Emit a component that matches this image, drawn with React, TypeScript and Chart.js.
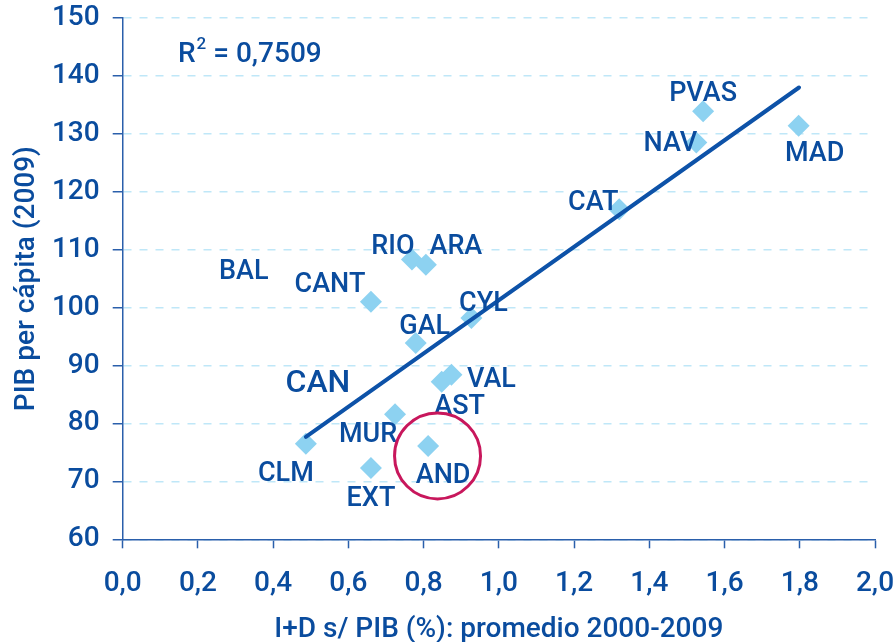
import React, { useEffect, useRef } from 'react';
import { Chart, registerables } from 'chart.js';

Chart.register(...registerables);

// ---- data ----
const regions = ['CLM', 'EXT', 'MUR', 'CANT', 'RIO', 'ARA', 'GAL', 'AND', 'AST', 'VAL', 'CYL', 'CAT', 'NAV', 'PVAS', 'MAD'];
const rdShare = [0.487, 0.66, 0.724, 0.66, 0.769, 0.806, 0.779, 0.812, 0.848, 0.874, 0.927, 1.32, 1.525, 1.543, 1.797];
const gdpPerCapita = [76.5, 72.3, 81.6, 101.0, 108.3, 107.4, 93.9, 76.1, 87.2, 88.4, 98.2, 117.0, 128.5, 133.9, 131.4];

const trendX = [0.487, 1.798];
const trendY = [77.7, 138.0];

const floatingLabels = ['BAL', 'CAN'];
const floatingX = [0.322, 0.519];
const floatingY = [106.7, 87.3];

const xMin = 0;
const xMax = 2;
const xStep = 0.2;
const yMin = 60;
const yMax = 150;
const yStep = 10;

const r2Value = '0,7509';
const r2AnchorX = 0.147;
const r2AnchorY = 144.0;

const highlightX = 0.837;
const highlightY = 74.4;

const xTitle = 'I+D s/ PIB (%): promedio 2000-2009';
const yTitle = 'PIB per cápita (2009)';

// ---- styles ----
const FONT = "Roboto, 'Open Sans', sans-serif";
const WEIGHT = '500';
const TEXT = '#0a4c9e';
const AXIS = '#2a5fab';
const GRID = '#bfe7f8';
const DIAMOND = '#8dd2f1';
const TREND = '#0d52a8';
const CIRCLE = '#c8175c';
const TEXT_DY = 3;

const labelOffsets: Record<string, [number, number]> = {
  CLM: [-20, 28],
  EXT: [0, 28],
  MUR: [-27, 18],
  CANT: [-41, -20],
  RIO: [-19, -15],
  ARA: [30, -20],
  GAL: [9, -19],
  AND: [15, 27],
  AST: [18, 22],
  VAL: [40, 2],
  CYL: [12, -17],
  CAT: [-26, -9],
  NAV: [-26, -1],
  PVAS: [0, -20],
  MAD: [16, 26],
};
const floatingSizes: Record<string, number> = { BAL: 27, CAN: 32 };

const annotationPlugin = {
  id: 'annotations',
  afterDatasetsDraw(chart: any) {
    const ctx = chart.ctx;
    const xs = chart.scales.x;
    const ys = chart.scales.y;
    ctx.save();
    ctx.fillStyle = TEXT;
    ctx.textAlign = 'center';
    ctx.textBaseline = 'middle';
    ctx.font = `${WEIGHT} 27px ${FONT}`;
    regions.forEach((name, i) => {
      const px = xs.getPixelForValue(rdShare[i]);
      const py = ys.getPixelForValue(gdpPerCapita[i]);
      const off = labelOffsets[name] || [0, 0];
      ctx.fillText(name, px + off[0], py + off[1] + TEXT_DY);
    });
    floatingLabels.forEach((name, i) => {
      ctx.font = `${WEIGHT} ${floatingSizes[name] || 27}px ${FONT}`;
      ctx.fillText(name, xs.getPixelForValue(floatingX[i]), ys.getPixelForValue(floatingY[i]) + TEXT_DY);
    });

    // R² text
    const rx = xs.getPixelForValue(r2AnchorX);
    const ry = ys.getPixelForValue(r2AnchorY) + 2;
    ctx.textAlign = 'left';
    ctx.font = `${WEIGHT} 28px ${FONT}`;
    ctx.fillText('R', rx, ry);
    const rw = ctx.measureText('R').width;
    ctx.font = `${WEIGHT} 17px ${FONT}`;
    ctx.fillText('2', rx + rw + 1, ry - 10);
    const sw = ctx.measureText('2').width;
    ctx.font = `${WEIGHT} 28px ${FONT}`;
    ctx.fillText(' = ' + r2Value, rx + rw + sw + 1, ry);

    // highlight circle
    ctx.beginPath();
    ctx.strokeStyle = CIRCLE;
    ctx.lineWidth = 3;
    ctx.arc(xs.getPixelForValue(highlightX), ys.getPixelForValue(highlightY), 43, 0, Math.PI * 2);
    ctx.stroke();
    ctx.restore();
  },
};

export default function App() {
  const canvasRef = useRef<HTMLCanvasElement | null>(null);

  useEffect(() => {
    const canvas = canvasRef.current;
    if (!canvas) return;
    const chart = new Chart(canvas, {
      type: 'scatter',
      data: {
        datasets: [
          {
            type: 'line',
            data: trendX.map((x, i) => ({ x, y: trendY[i] })),
            borderColor: TREND,
            borderWidth: 4,
            pointRadius: 0,
            fill: false,
            borderCapStyle: 'round',
          } as any,
          {
            data: rdShare.map((x, i) => ({ x, y: gdpPerCapita[i] })),
            pointStyle: 'rectRot',
            pointRadius: 11,
            pointBackgroundColor: DIAMOND,
            pointBorderWidth: 0,
            backgroundColor: DIAMOND,
            borderColor: DIAMOND,
          },
        ],
      },
      options: {
        responsive: false,
        animation: false,
        events: [],
        layout: { padding: { top: 18, right: 18, left: 0, bottom: 0 } },
        plugins: { legend: { display: false }, tooltip: { enabled: false } },
        scales: {
          x: {
            type: 'linear',
            min: xMin,
            max: xMax,
            ticks: {
              stepSize: xStep,
              color: TEXT,
              font: { family: FONT, size: 28, weight: WEIGHT },
              padding: 19,
              maxRotation: 0,
              autoSkip: false,
              callback: (v: any) => Number(v).toFixed(1).replace('.', ','),
            },
            grid: { drawOnChartArea: false, drawTicks: true, tickLength: 9, tickColor: AXIS, tickWidth: 1.5 },
            border: { display: true, color: AXIS, width: 1.5 },
            title: { display: true, text: xTitle, color: TEXT, font: { family: FONT, size: 28, weight: WEIGHT }, padding: { top: 0, bottom: -5 } },
            afterFit: (s: any) => {
              s.height = 102.7;
              s.paddingLeft = 0;
              s.paddingRight = 0;
            },
          },
          y: {
            type: 'linear',
            min: yMin,
            max: yMax,
            ticks: {
              stepSize: yStep,
              color: TEXT,
              font: { family: FONT, size: 28, weight: WEIGHT },
              padding: 13,
            },
            grid: { color: GRID, lineWidth: 1.5, drawTicks: true, tickLength: 10, tickColor: AXIS, tickWidth: 1.5 },
            border: { display: true, color: AXIS, width: 1.5, dash: [8, 8] },
            title: { display: true, text: yTitle, color: TEXT, font: { family: FONT, size: 28, weight: WEIGHT }, padding: { top: 10, bottom: 0 } },
            afterFit: (s: any) => {
              s.width = 122.7;
              s.paddingTop = 0;
              s.paddingBottom = 0;
            },
          },
        },
      },
      plugins: [annotationPlugin],
    } as any);
    return () => chart.destroy();
  }, []);

  return (
    <div style={{ position: 'absolute', left: 0, top: 0, width: 893, height: 642, background: '#fff' }}>
      <canvas ref={canvasRef} width={893} height={642} style={{ display: 'block' }} />
    </div>
  );
}
